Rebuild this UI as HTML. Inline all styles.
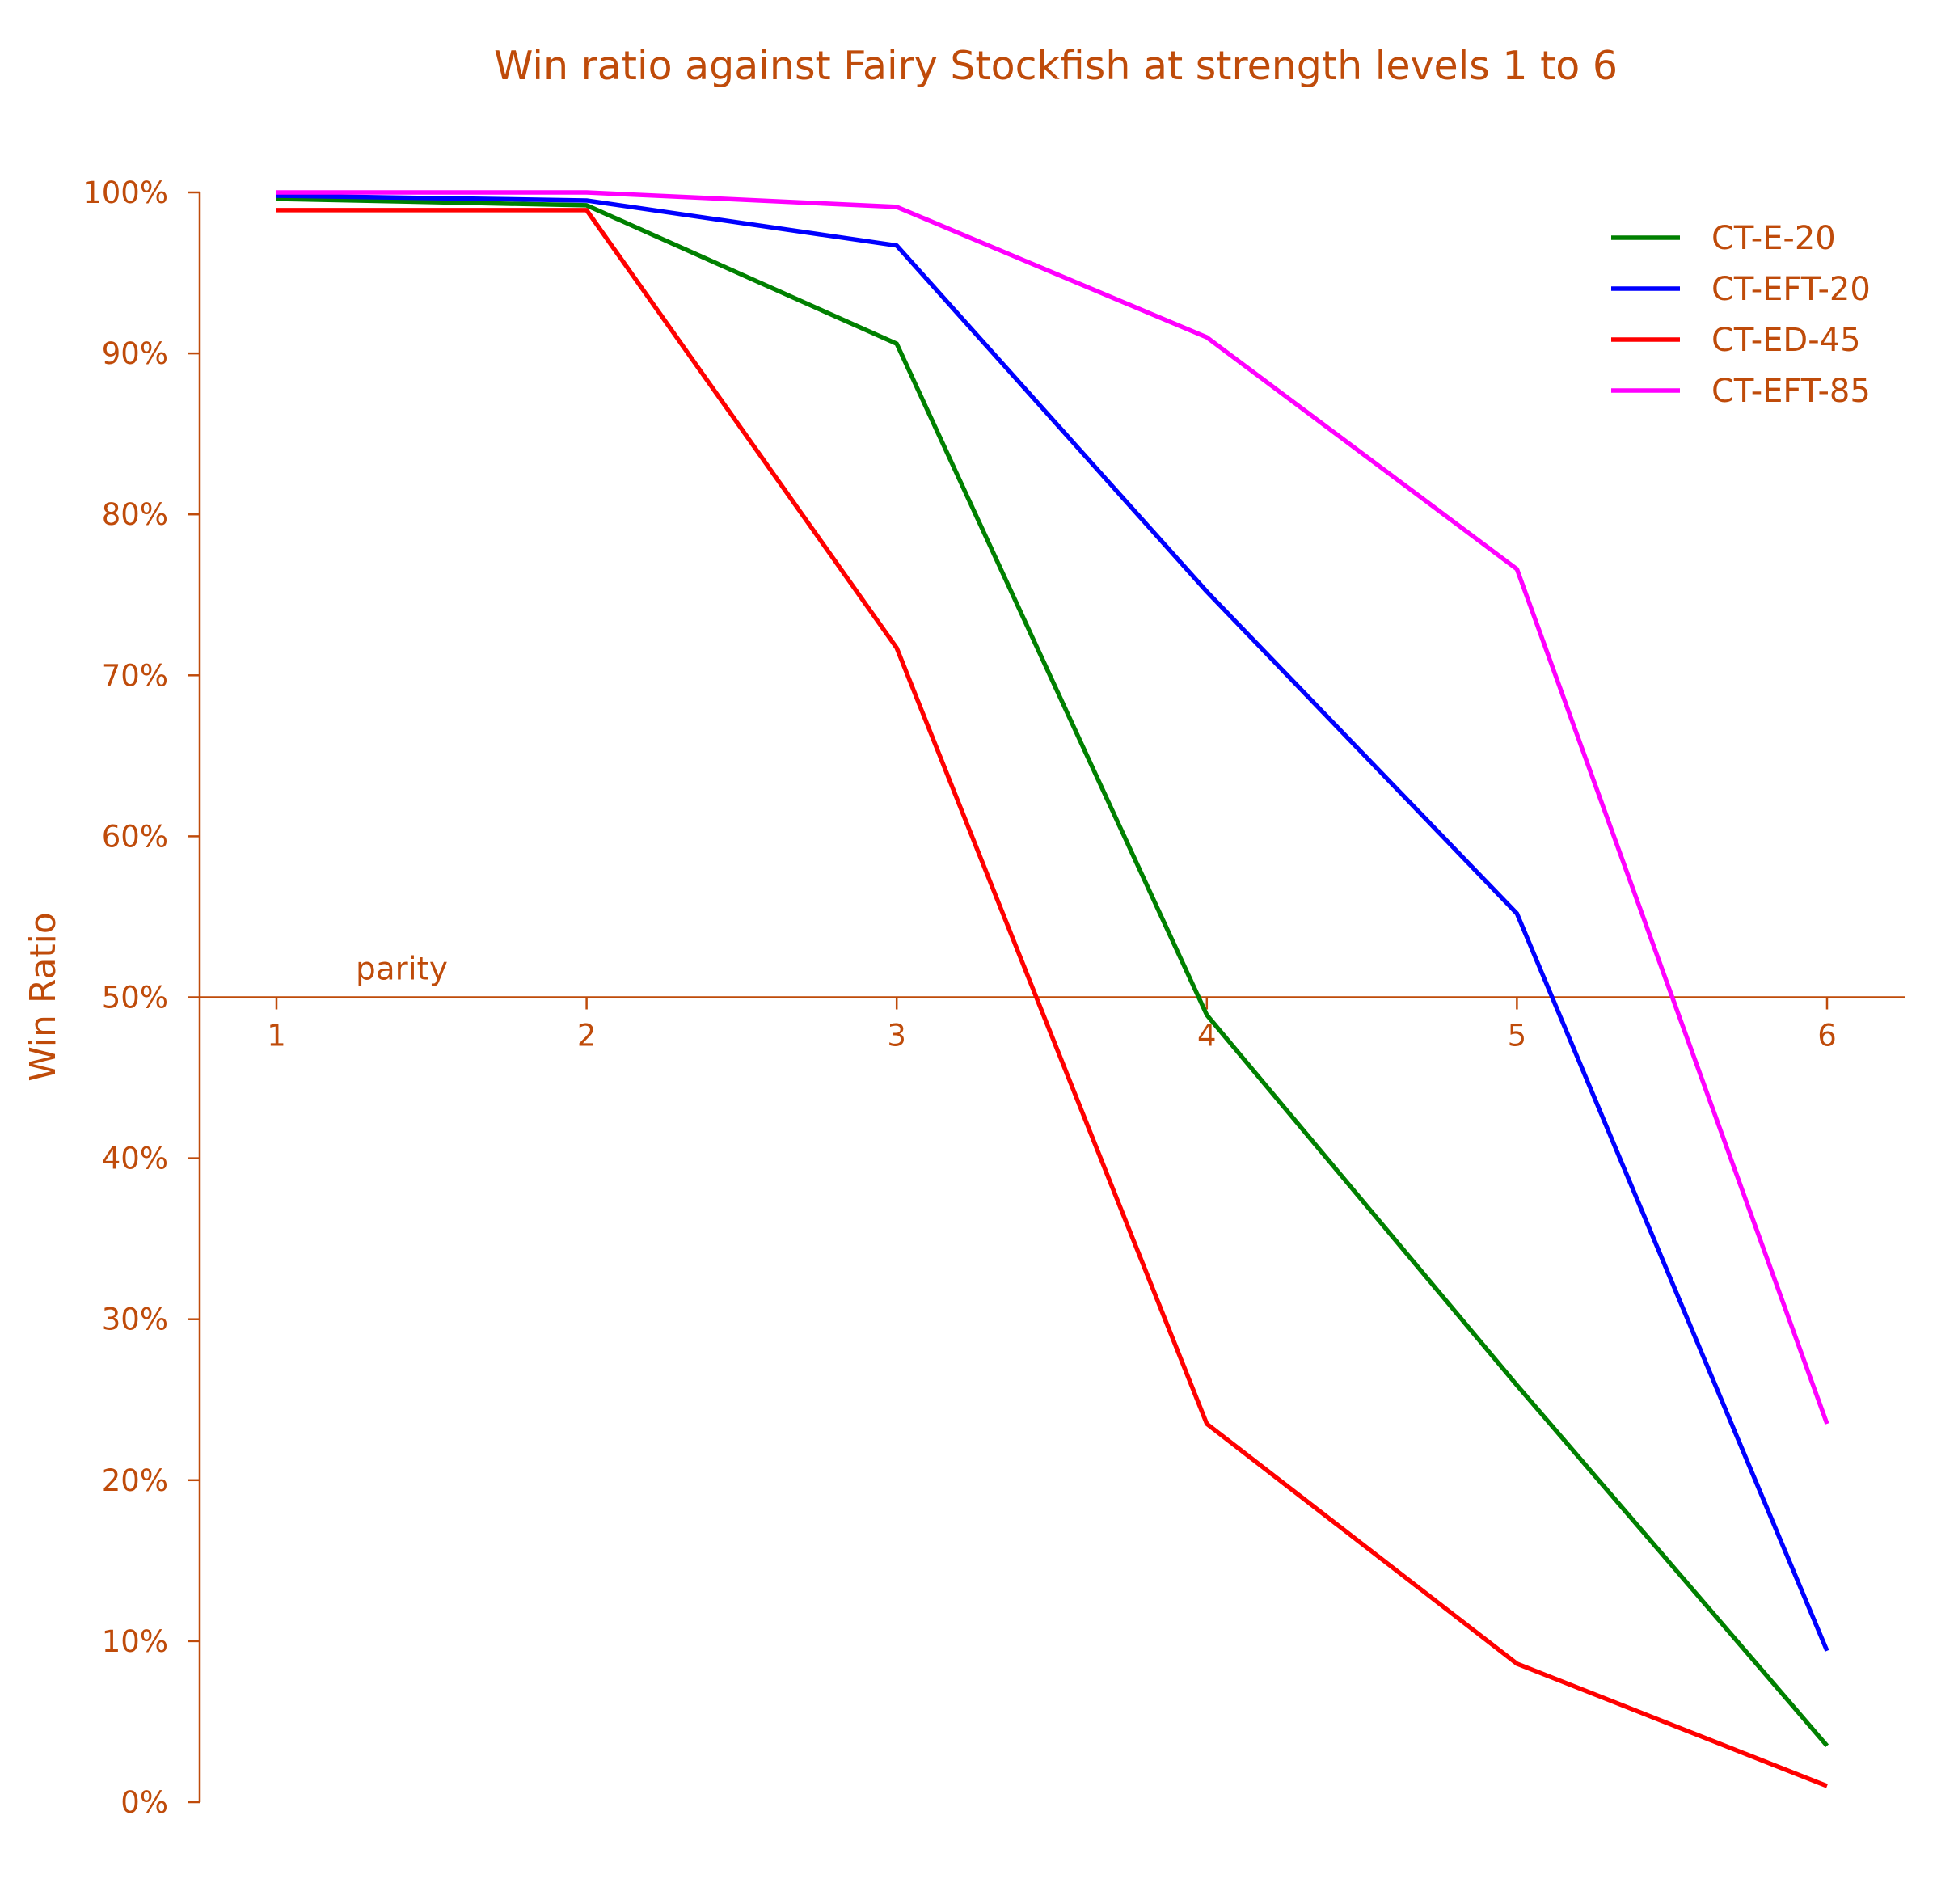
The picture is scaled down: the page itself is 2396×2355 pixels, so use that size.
<!DOCTYPE html>
<html><head><meta charset="utf-8"><style>
body{margin:0;background:#fff}
svg text{font-family:"DejaVu Sans","Liberation Sans",sans-serif;fill:#bf4b0a}
</style></head><body>
<svg width="2396" height="2350" viewBox="0 0 2396 2350" xmlns="http://www.w3.org/2000/svg">
<text x="1306" y="98" font-size="49" text-anchor="middle">Win ratio against Fairy Stockfish at strength levels 1 to 6</text>
<text transform="translate(68,1233) rotate(-90)" font-size="44" text-anchor="middle">Win Ratio</text>
<g id="axes"></g>
<g id="series"></g>
<g id="legend"></g>
</svg>
<script>
const levels=[1,2,3,4,5,6];
const yTicks=[0,10,20,30,40,50,60,70,80,90,100];
const seriesNames=["CT-E-20","CT-EFT-20","CT-ED-45","CT-EFT-85"];
const seriesColors=["#008000","#0000ff","#ff0000","#ff00ff"];
const ctE20=[99.6,99.2,90.6,48.9,25.9,3.5];
const ctEFT20=[99.8,99.5,96.7,75.2,55.2,9.4];
const ctED45=[98.9,98.9,71.7,23.5,8.6,1.0];
const ctEFT85=[100,100,99.1,91.0,76.6,23.5];
const allSeries=[ctE20,ctEFT20,ctED45,ctEFT85];
const NS="http://www.w3.org/2000/svg";
const xS=n=>342+383.6*(n-1);
const yS=v=>2229-19.91*v;
const C="#bf4b0a";
function mk(tag,attrs,parent){const e=document.createElementNS(NS,tag);for(const k in attrs)e.setAttribute(k,attrs[k]);parent.appendChild(e);return e;}
const axes=document.getElementById('axes');
let e=mk('line',{x1:247,y1:yS(0),x2:247,y2:yS(100),stroke:C,'stroke-width':2.5},axes);


e=mk('line',{x1:247,y1:yS(50),x2:2357,y2:yS(50),stroke:C,'stroke-width':2.5},axes);


yTicks.forEach(t=>{
 let l=mk('line',{x1:232,y1:yS(t),x2:247,y2:yS(t),stroke:C,'stroke-width':2.5},axes);
 
 
 let tx=mk('text',{x:208,y:yS(t)+13,'font-size':37,'text-anchor':'end'},axes);
 tx.textContent=t+'%';
 
 
});
levels.forEach(n=>{
 let l=mk('line',{x1:xS(n),y1:yS(50),x2:xS(n),y2:yS(50)+15,stroke:C,'stroke-width':2.5},axes);
 
 
 let tx=mk('text',{x:xS(n),y:yS(50)+60,'font-size':37,'text-anchor':'middle'},axes);
 tx.textContent=String(n);
 
 
});
let p=mk('text',{x:440,y:yS(50)-22,'font-size':39},axes);
p.textContent='parity';


const sg=document.getElementById('series');
allSeries.forEach((s,i)=>{
 const pts=s.map((v,j)=>xS(levels[j])+','+yS(v)).join(' ');
 let pl=mk('polyline',{points:pts,fill:'none',stroke:seriesColors[i],'stroke-width':5.5,'stroke-linejoin':'round'},sg);
 
 
});
const lg=document.getElementById('legend');
seriesNames.forEach((nm,i)=>{
 const y=294+63*i;
 let l=mk('line',{x1:1993,y1:y,x2:2078,y2:y,stroke:seriesColors[i],'stroke-width':5.5},lg);
 
 
 let t=mk('text',{x:2117,y:y+14,'font-size':40},lg);
 t.textContent=nm;
 
 
});
</script>
</body></html>
